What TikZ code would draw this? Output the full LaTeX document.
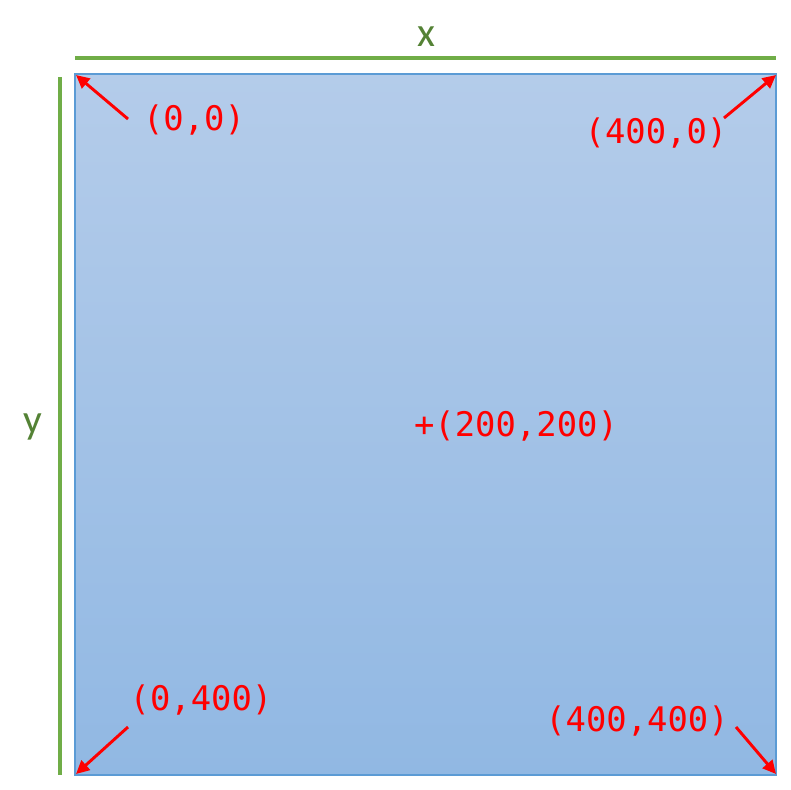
\documentclass[tikz,border=0pt]{standalone}
\usepackage{fontspec}
\newfontfamily\codefont{DejaVu Sans Mono}
\newfontfamily\axisfont{Carlito}
\usetikzlibrary{positioning, arrows.meta}
\definecolor{axisgreen}{RGB}{112,173,71}
\definecolor{axistext}{RGB}{84,130,53}
\definecolor{boxtop}{RGB}{180,204,234}
\definecolor{boxbottom}{RGB}{145,184,227}
\definecolor{boxline}{RGB}{91,155,213}

\begin{document}
\begin{tikzpicture}[x=0.75pt, y=-0.75pt,
  coordlabel/.style={text=red, font=\codefont\fontsize{25.4pt}{30pt}\selectfont, inner sep=0pt},
  axisline/.style={draw=axisgreen, line width=2.3pt},
  axislabel/.style={text=axistext, font=\axisfont\fontsize{31pt}{36pt}\selectfont, inner sep=0pt},
  pointer/.style={draw=red, line width=2.2pt, -{Triangle[length=10pt,width=9.5pt]}}]
\useasboundingbox (0,0) rectangle (791,789);
% the canvas
\shade[top color=boxtop, bottom color=boxbottom, draw=boxline, line width=0.8pt]
  (75,74) rectangle (776,775);
\coordinate (c00) at (76,75);
\coordinate (c40) at (776,75);
\coordinate (c04) at (76,774);
\coordinate (c44) at (776,774);
% axes
\coordinate (xa) at (75,58);
\coordinate (xb) at (776,58);
\coordinate (ya) at (60,77);
\coordinate (yb) at (60,775);
\draw[axisline] (xa) -- (xb);
\draw[axisline] (ya) -- (yb);
\node[axislabel] (xlabel) at (426,37) {x};
\node[axislabel] (ylabel) at (33,427) {y};
% labels
\node[coordlabel] (l00) at (194,120) {(0,0)};
\node[coordlabel] (l40) at (656,133) {(400,0)};
\node[coordlabel] (l04) at (201,700) {(0,400)};
\node[coordlabel] (l44) at (637,721) {(400,400)};
\node[coordlabel] (mid) at (516,426) {+(200,200)};
% pointers
\coordinate (t00) at (128,119);
\coordinate (t40) at (724,118);
\coordinate (t04) at (128,727);
\coordinate (t44) at (736,727);
\draw[pointer] (t00) -- (c00);
\draw[pointer] (t40) -- (c40);
\draw[pointer] (t04) -- (c04);
\draw[pointer] (t44) -- (c44);
\end{tikzpicture}
\end{document}
